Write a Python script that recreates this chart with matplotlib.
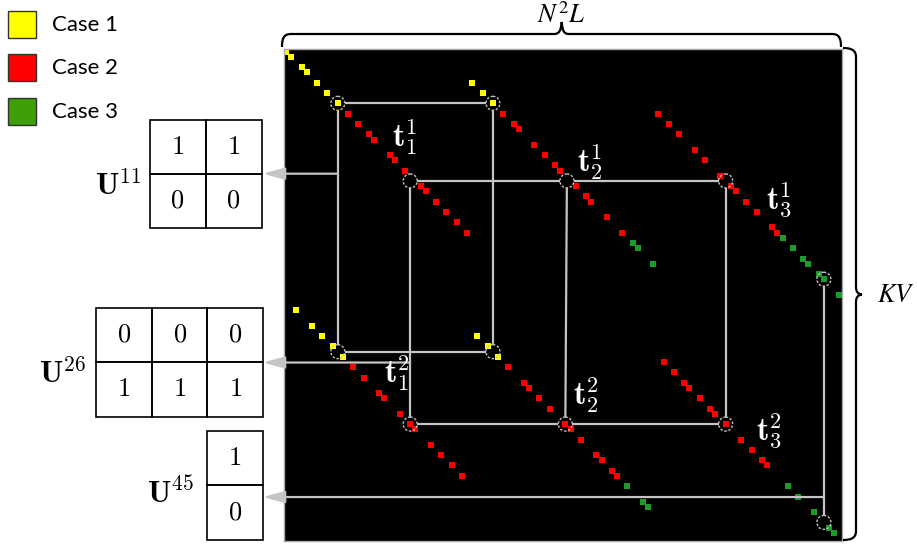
import matplotlib
matplotlib.use("Agg")
import matplotlib.pyplot as plt
from matplotlib.patches import Rectangle, Circle, PathPatch
from matplotlib.path import Path
from matplotlib.transforms import blended_transform_factory

plt.rcParams["mathtext.fontset"] = "cm"

W, H = 917, 545
N_COLS, N_ROWS = 108, 95

# ---- sparse pattern: (col, row) of the non-zero entries for each case ----
case1_cells = [(0, 0), (1, 1), (3, 3), (4, 4), (6, 6), (8, 8), (10, 10),
               (36, 6), (38, 8), (40, 10),
               (2, 50), (5, 53), (7, 55), (9, 57), (11, 59),
               (37, 55), (39, 57), (41, 59)]
case2_cells = [(12, 12), (14, 14), (16, 16), (17, 17), (20, 20), (21, 21), (23, 23),
               (26, 26), (27, 27), (29, 29), (31, 31), (33, 33), (35, 35),
               (42, 12), (44, 14), (45, 15), (48, 18), (50, 20), (52, 22), (53, 23),
               (56, 26), (58, 28), (59, 29), (62, 32), (65, 35),
               (72, 12), (74, 14), (76, 16), (79, 19), (81, 21), (84, 24),
               (86, 26), (87, 27), (89, 29), (91, 31), (94, 34), (95, 35),
               (13, 61), (15, 63), (18, 66), (19, 67), (22, 70), (24, 72),
               (25, 73), (28, 76), (30, 78), (32, 80), (34, 82),
               (43, 61), (46, 64), (47, 65), (49, 67), (51, 69), (54, 72),
               (55, 73), (57, 75), (60, 78), (61, 79), (63, 81), (64, 82),
               (73, 60), (75, 62), (77, 64), (78, 65), (80, 67), (82, 69), (83, 70),
               (85, 72), (88, 75), (90, 77), (92, 79), (93, 80)]
case3_cells = [(67, 37), (68, 38), (71, 41),
               (96, 36), (98, 38), (100, 40), (101, 41), (103, 43), (104, 44), (107, 47),
               (66, 84), (69, 87), (70, 88),
               (97, 84), (99, 86), (102, 89), (105, 92), (106, 93)]

case_labels = ["Case 1", "Case 2", "Case 3"]
legend_colors = ["#ffff00", "#ff0000", "#3f9f06"]
dot_colors = ["#ffff00", "#ff0000", "#1c9a2a"]

# ---- tracked tuples (circle nodes) and their connections ----
nodes = {"A": (10, 10), "B": (40, 10), "C": (10, 58), "D": (40, 58),
         "E": (24, 25), "F": (54.3, 25), "G": (85, 25),
         "H": (24, 72), "I": (54, 72), "J": (85, 72),
         "K": (104, 44), "L": (104, 91)}
edges = [("A", "B"), ("A", "C"), ("B", "D"), ("C", "D"),
         ("E", "F"), ("F", "G"), ("E", "H"), ("F", "I"), ("G", "J"),
         ("H", "I"), ("I", "J"), ("K", "L")]

# ---- small matrices U ----
u11 = [[1, 1], [0, 0]]
u26 = [[0, 0, 0], [1, 1, 1]]
u45 = [[1], [0]]

fig = plt.figure(figsize=(W / 100, H / 100), dpi=100)
fig.patch.set_facecolor("white")

# matrix panel
mx0, my0, mx1, my1 = 283.5, 49.0, 842.0, 540.5
ax_m = fig.add_axes([mx0 / W, 1 - my1 / H, (mx1 - mx0) / W, (my1 - my0) / H], zorder=1)
ax_m.set_facecolor("black")
ax_m.set_xlim(-0.5, N_COLS - 0.5)
ax_m.set_ylim(N_ROWS - 0.5, -0.5)
ax_m.set_xticks([])
ax_m.set_yticks([])
for sp in ax_m.spines.values():
    sp.set_color("#a8a8a8")
    sp.set_linewidth(1.0)

for cells, col in zip([case1_cells, case2_cells, case3_cells], dot_colors):
    xs = [c for c, r in cells]
    ys = [r for c, r in cells]
    ax_m.scatter(xs, ys, marker="s", s=14, c=col, linewidths=0, zorder=2)

line_col = "#c4c4c4"
R = 1.35
for a, b in edges:
    (x0, y0), (x1, y1) = nodes[a], nodes[b]
    dx, dy = x1 - x0, y1 - y0
    d = (dx ** 2 + dy ** 2) ** 0.5
    ux, uy = dx / d, dy / d
    ax_m.plot([x0 + ux * R, x1 - ux * R], [y0 + uy * R, y1 - uy * R],
              color=line_col, lw=1.6, zorder=3, solid_capstyle="butt")
for name, (x, y) in nodes.items():
    ax_m.add_patch(Circle((x, y), R, fill=False, ec="#c0c0c0", lw=1.0,
                          ls=(0, (1.8, 1.2)), zorder=4))

# overlay in pixel coordinates
ax = fig.add_axes([0, 0, 1, 1], zorder=3)
ax.set_xlim(0, W)
ax.set_ylim(H, 0)
ax.axis("off")
ax.patch.set_alpha(0)

# arrows from the matrix to the small matrices
mixed = blended_transform_factory(ax.transData, ax_m.transData)
arrow_specs = [(10, 23.6), (24, 60.1), (104, 86.1)]
box_edge_x = 263
for col, row in arrow_specs:
    ax.annotate("", xy=(box_edge_x, row), xycoords=mixed,
                xytext=(col, row), textcoords=ax_m.transData,
                arrowprops=dict(arrowstyle="-|>,head_length=0.65,head_width=0.18",
                                color=line_col, lw=1.6, shrinkA=0, shrinkB=0,
                                mutation_scale=20),
                annotation_clip=False, zorder=5)

# tuple labels
t_labels = [(r"$\mathbf{t}_1^1$", 392, 147), (r"$\mathbf{t}_2^1$", 577, 172),
            (r"$\mathbf{t}_3^1$", 766, 209), (r"$\mathbf{t}_1^2$", 384, 383),
            (r"$\mathbf{t}_2^2$", 573, 405), (r"$\mathbf{t}_3^2$", 756, 440)]
for s, x, y in t_labels:
    ax.text(x, y, s, color="white", fontsize=23, ha="left", va="baseline", zorder=6)

# small matrices
def draw_box(vals, right, top, cw, ch):
    nr, nc = len(vals), len(vals[0])
    left = right - nc * cw
    for i in range(nr):
        for j in range(nc):
            ax.add_patch(Rectangle((left + j * cw, top + i * ch), cw, ch,
                                   fill=False, ec="black", lw=1.2))
            ax.text(left + (j + 0.5) * cw, top + (i + 0.5) * ch, f"${vals[i][j]}$",
                    fontsize=19, ha="center", va="center", color="black")

draw_box(u11, 261.5, 119.5, 56, 54.2)
draw_box(u26, 263, 307.5, 55.6, 54.6)
draw_box(u45, 263, 431, 56, 54.3)

ax.text(141, 195, r"$\mathbf{U}^{11}$", fontsize=22, ha="right", va="baseline")
ax.text(86, 383, r"$\mathbf{U}^{26}$", fontsize=22, ha="right", va="baseline")
ax.text(194, 503, r"$\mathbf{U}^{45}$", fontsize=22, ha="right", va="baseline")

# legend
legend_tops = [11, 54, 98]
for lab, col, top in zip(case_labels, legend_colors, legend_tops):
    ax.add_patch(Rectangle((8, top), 27.5, 27, fc=col, ec="#333333", lw=1.0))
    ax.text(52, top + 14, lab, fontsize=16, family="Lato", ha="left", va="center")

# braces
top_brace = Path(
    [(282, 47), (282, 38), (284, 34), (291, 34),
     (554, 34),
     (559, 34), (561, 31), (561.7, 22),
     (562.4, 31), (564, 34), (569, 34),
     (832, 34),
     (839, 34), (841, 38), (841, 47)],
    [Path.MOVETO, Path.CURVE4, Path.CURVE4, Path.CURVE4,
     Path.LINETO,
     Path.CURVE4, Path.CURVE4, Path.CURVE4,
     Path.CURVE4, Path.CURVE4, Path.CURVE4,
     Path.LINETO,
     Path.CURVE4, Path.CURVE4, Path.CURVE4])
ax.add_patch(PathPatch(top_brace, fill=False, ec="black", lw=1.6))

right_brace = Path(
    [(843, 48), (851, 48), (856, 50), (856, 57),
     (856, 287),
     (856, 292), (858, 294), (862, 294.5),
     (858, 295), (856, 297), (856, 302),
     (856, 531),
     (856, 538), (851, 540), (843, 540)],
    [Path.MOVETO, Path.CURVE4, Path.CURVE4, Path.CURVE4,
     Path.LINETO,
     Path.CURVE4, Path.CURVE4, Path.CURVE4,
     Path.CURVE4, Path.CURVE4, Path.CURVE4,
     Path.LINETO,
     Path.CURVE4, Path.CURVE4, Path.CURVE4])
ax.add_patch(PathPatch(right_brace, fill=False, ec="black", lw=1.6))

ax.text(561, 23, r"$N^2L$", fontsize=19, ha="center", va="baseline", math_fontfamily="stix")
ax.text(877, 295, r"$KV$", fontsize=19, ha="left", va="center", math_fontfamily="stix")

fig.savefig("out.png", dpi=100, facecolor="white")
